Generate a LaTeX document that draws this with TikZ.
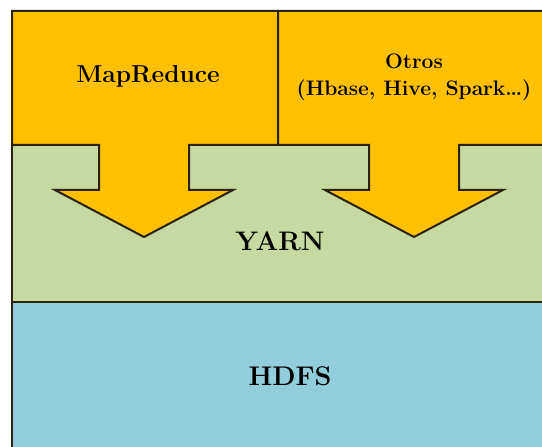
\documentclass[tikz,border=0pt]{standalone}
\usepackage{fontspec}
\begin{document}
\definecolor{layerorange}{HTML}{FFC000}
\definecolor{layergreen}{HTML}{C6D9A0}
\definecolor{layerblue}{HTML}{92CDDC}
\definecolor{edgedark}{HTML}{2B2312}
\begin{tikzpicture}[x=1pt,y=1pt,
  layer/.style={draw=edgedark,line width=2pt,line join=miter},
  lbl/.style={font=\bfseries,text=black,align=center,inner sep=0pt}]
\useasboundingbox (0,0) rectangle (542,447);
\fill[white] (0,0) rectangle (542,447);
% HDFS layer
\path[layer,fill=layerblue] (12,-20) -- (12,145) -- (560,145) -- (560,-20) -- cycle;
% YARN layer
\path[layer,fill=layergreen] (12,145) rectangle (560,302);
% MapReduce box with arrow
\path[layer,fill=layerorange] (12,436) -- (278,436) -- (278,302) -- (189,302) -- (189,257) -- (233,257) -- (144,210) -- (55,257) -- (99,257) -- (99,302) -- (12,302) -- cycle;
% Otros box with arrow
\path[layer,fill=layerorange] (278,436) -- (560,436) -- (560,302) -- (459,302) -- (459,257) -- (503,257) -- (414,210) -- (325,257) -- (369,257) -- (369,302) -- (278,302) -- cycle;
\node[lbl,font=\bfseries\fontsize{24.5}{28}\selectfont] (mr) at (148,371) {MapReduce};
\node[lbl,font=\bfseries\fontsize{21}{27}\selectfont] (otros) at (414,370) {Otros\\(Hbase, Hive, Spark…)};
\node[lbl,font=\bfseries\fontsize{26.8}{30}\selectfont] (yarn) at (280,206) {YARN};
\node[lbl,font=\bfseries\fontsize{27}{30}\selectfont] (hdfs) at (290,71) {HDFS};
\end{tikzpicture}
\end{document}
